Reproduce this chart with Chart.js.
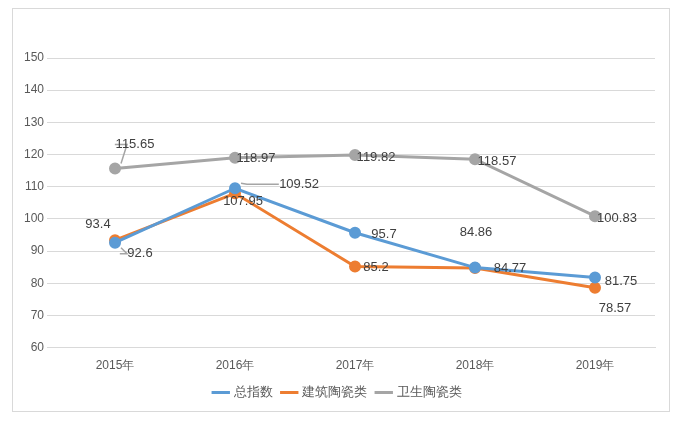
<!DOCTYPE html><html><head><meta charset="utf-8">
<script src="https://cdn.jsdelivr.net/npm/chart.js@4"></script>
<style>body{margin:0;background:#fff}#w{position:absolute;left:12px;top:8px;width:658px;height:404px;border:1px solid #d9d9d9;box-sizing:border-box}</style>
</head><body><div id="w"><canvas id="c"></canvas></div><script>
const categories=['2015年','2016年','2017年','2018年','2019年'];
const seriesNames=['总指数','建筑陶瓷类','卫生陶瓷类'];
const total=[92.6,109.52,95.7,84.86,81.75];
const building=[93.4,107.95,85.2,84.77,78.57];
const sanitary=[115.65,118.97,119.82,118.57,100.83];
const colors=['#5b9bd5','#ed7d31','#a5a5a5'];
const offs=[
 [[25,11,1],[64,-4,1],[29,2,0],[1,-35,0],[26,4,0]],
 [[-17,-16,0],[8,8,0],[21,1,0],[35,1,0],[20,21,0]],
 [[20,-24,1],[21,1,0],[21,2,0],[22,2,0],[22,2,0]]];
const lbl={id:'lbl',afterDatasetsDraw(ch){const x=ch.ctx;x.save();x.font='13px "Liberation Sans", Arial';x.fillStyle='#404040';x.textAlign='center';x.textBaseline='middle';
ch.data.datasets.forEach((d,i)=>{ch.getDatasetMeta(i).data.forEach((p,j)=>{const o=offs[i][j];const tx=p.x+o[0],ty=p.y+o[1];
if(o[2]){x.strokeStyle='#a5a5a5';x.lineWidth=1.5;x.beginPath();x.moveTo(p.x+6,p.y+(o[1]>0?5:-5));x.lineTo(p.x+12,ty);x.lineTo(tx-(o[0]>0?18:-18)*0.9-4,ty);x.stroke();}
x.fillText(String(d.data[j]),tx,ty);});});x.restore();}};
new Chart(document.getElementById('c'),{type:'line',
data:{labels:categories,datasets:[total,building,sanitary].map((v,i)=>({label:seriesNames[i],data:v,borderColor:colors[i],backgroundColor:colors[i],borderWidth:3,pointRadius:4.5,pointHoverRadius:4.5,tension:0}))},
options:{responsive:true,maintainAspectRatio:false,animation:false,
layout:{padding:{left:8,right:14,top:49,bottom:2}},
plugins:{tooltip:{enabled:false},legend:{position:'bottom',labels:{usePointStyle:true,pointStyle:'line',boxWidth:30,color:'#595959',font:{size:13}}}},
scales:{x:{offset:true,grid:{display:false},border:{color:'#d9d9d9'},ticks:{color:'#595959',font:{size:12}}},
y:{min:60,max:150,ticks:{stepSize:10,color:'#595959',font:{size:12}},grid:{color:'#d9d9d9'},border:{display:false}}}},
plugins:[lbl]});
</script></body></html>
